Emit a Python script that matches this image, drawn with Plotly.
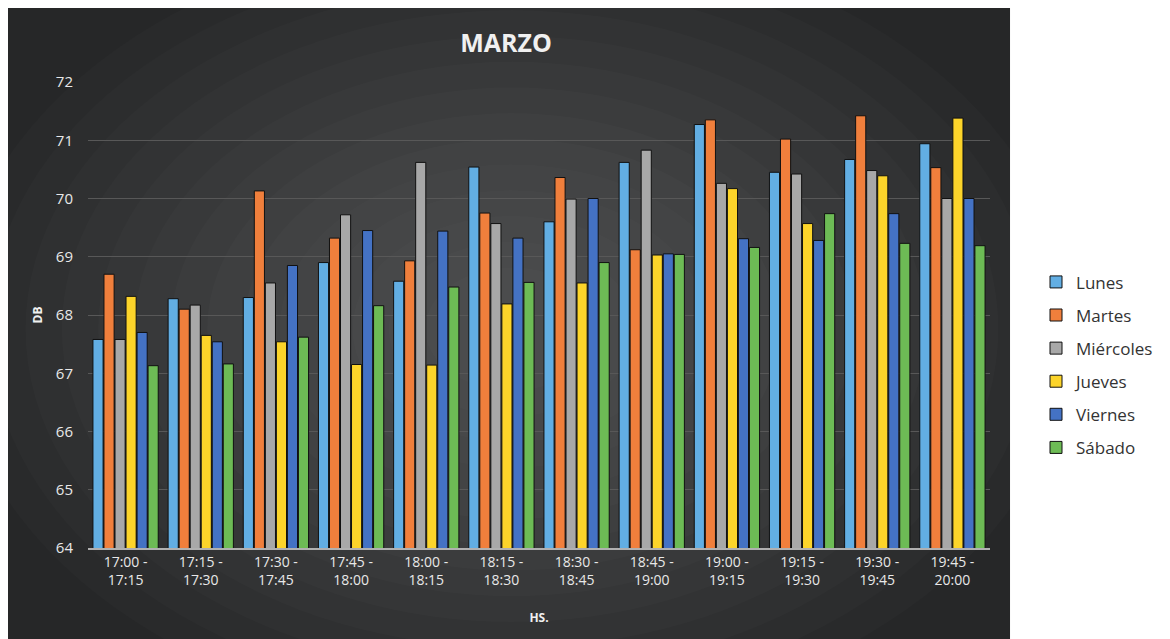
import plotly.graph_objects as go

categories = ["17:00 -<br>17:15", "17:15 -<br>17:30", "17:30 -<br>17:45", "17:45 -<br>18:00",
              "18:00 -<br>18:15", "18:15 -<br>18:30", "18:30 -<br>18:45", "18:45 -<br>19:00",
              "19:00 -<br>19:15", "19:15 -<br>19:30", "19:30 -<br>19:45", "19:45 -<br>20:00"]

lunes     = [67.58, 68.28, 68.30, 68.90, 68.58, 70.54, 69.60, 70.62, 71.27, 70.45, 70.67, 70.94]
martes    = [68.70, 68.10, 70.13, 69.32, 68.93, 69.75, 70.36, 69.12, 71.35, 71.02, 71.42, 70.53]
miercoles = [67.58, 68.17, 68.55, 69.72, 70.62, 69.57, 69.99, 70.83, 70.26, 70.42, 70.48, 70.00]
jueves    = [68.32, 67.65, 67.54, 67.15, 67.14, 68.19, 68.55, 69.03, 70.17, 69.57, 70.39, 71.38]
viernes   = [67.70, 67.54, 68.85, 69.45, 69.44, 69.32, 70.00, 69.05, 69.31, 69.28, 69.74, 70.00]
sabado    = [67.13, 67.16, 67.62, 68.16, 68.48, 68.56, 68.90, 69.04, 69.16, 69.74, 69.23, 69.19]

series = [
    ("Lunes", lunes, "#62aee3"),
    ("Martes", martes, "#f07f3c"),
    ("Miércoles", miercoles, "#a8a8a8"),
    ("Jueves", jueves, "#fcd42a"),
    ("Viernes", viernes, "#4472c4"),
    ("Sábado", sabado, "#6dbb55"),
]

fig = go.Figure()
for name, vals, col in series:
    fig.add_trace(go.Bar(
        x=categories, y=vals, name=name, legendgroup=name,
        marker=dict(color=col, line=dict(color="#111111", width=1)),
    ))

shapes = [dict(type="rect", xref="paper", yref="paper", x0=-0.095, x1=1.0222, y0=-0.21, y1=1.159,
               fillcolor="#262728", line=dict(width=0), layer="below")]
# soft radial glow (background styling only)
for i in range(14):
    r = 1.0 - i * 0.065
    shapes.append(dict(type="circle", xref="paper", yref="paper",
                       x0=0.47 - 0.62 * r, x1=0.47 + 0.62 * r,
                       y0=0.47 - 0.85 * r, y1=0.47 + 0.85 * r,
                       fillcolor="rgba(255,255,255,0.016)", line=dict(width=0), layer="below"))

fig.update_layout(
    width=1170, height=639,
    paper_bgcolor="white", plot_bgcolor="rgba(0,0,0,0)",
    margin=dict(l=80, r=188, t=74, b=99),
    barmode="group", bargap=0.12, bargroupgap=0.08,
    title=dict(text="<b>MARZO</b>", x=498 / 1170, xanchor="center", y=1 - 35 / 639, yanchor="middle",
               font=dict(family="Open Sans, Arial", size=25, color="#f0f0f0")),
    shapes=shapes,
    legend=dict(x=1.051, xanchor="left", y=0.393, yanchor="middle",
                font=dict(family="Open Sans, Lato", size=17, color="#333333"),
                itemwidth=30, tracegroupgap=8, bgcolor="rgba(0,0,0,0)"),
    font=dict(family="Open Sans, Arial", color="#dcdcdc"),
)
fig.update_yaxes(range=[64, 72], dtick=1, showgrid=True, gridcolor="#585858", gridwidth=1,
                 zeroline=False, showline=False,
                 tickfont=dict(family="Open Sans, Arial", size=15, color="#e8e8e8"),
                 ticks="", ticklen=0, ticklabelstandoff=14,
                 title=dict(text="<b>DB</b>", font=dict(size=12, color="#f0f0f0"), standoff=10))
fig.update_xaxes(showline=True, linecolor="#b0b0b0", linewidth=2, showgrid=False,
                 tickfont=dict(family="Open Sans, Arial", size=14, color="#e8e8e8"),
                 title=dict(text="<b>HS.</b>", font=dict(size=12, color="#f0f0f0"), standoff=26))

fig.write_html("out.html")
